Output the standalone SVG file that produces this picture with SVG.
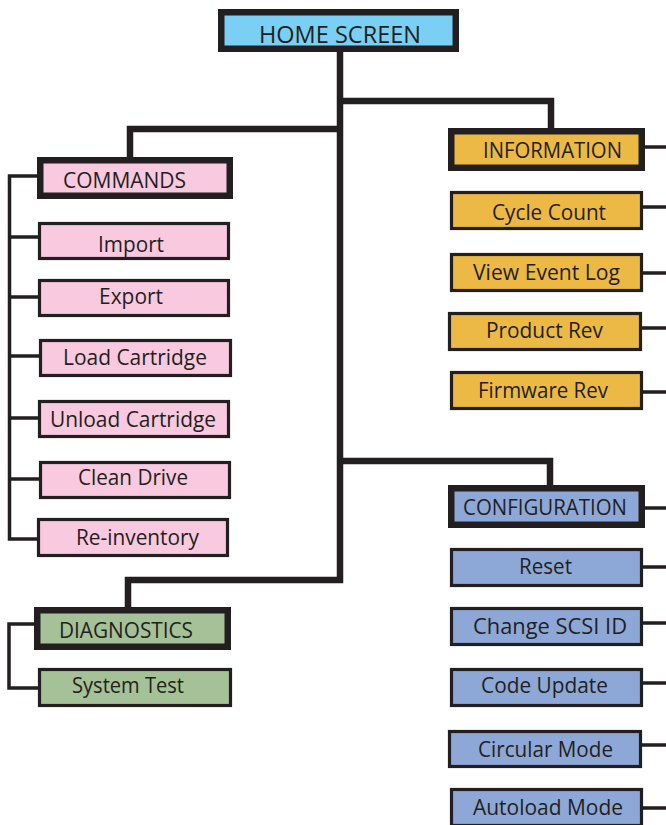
<svg xmlns="http://www.w3.org/2000/svg" width="666" height="825" viewBox="0 0 666 825">
<style>
  .thick { stroke: #231F20; stroke-width: 6.5; }
  .thin { stroke: #231F20; stroke-width: 3.2; }
  .blue { fill: #7ACFF4; }
  .pink { fill: #F8C9DF; }
  .orange { fill: #EDB945; }
  .slate { fill: #8DA7D7; }
  .green { fill: #A5C197; }
  text { font-family: "Open Sans", "Noto Sans", sans-serif; font-size: 22px; fill: #231F20; text-anchor: middle; }
  .big { font-size: 24px; }
  .con { fill: none; stroke: #231F20; stroke-linejoin: miter; stroke-linecap: butt; }
  .ct { stroke-width: 6.5; }
  .cn { stroke-width: 3.5; }
</style>
<rect width="666" height="825" fill="#FFFFFF"/>
<g id="connectors">
  <path class="con ct" d="M340,50 V580 H128 V608"/>
  <path class="con ct" d="M340,101 H551 V130"/>
  <path class="con ct" d="M340,129 H130 V158"/>
  <path class="con ct" d="M340,461 H550 V487"/>
  <path class="con cn" d="M38,176 H9.5 V539 H38"/>
  <path class="con cn" d="M9.5,237 H38 M9.5,297 H38 M9.5,356 H39 M9.5,418 H38 M9.5,479 H39"/>
  <path class="con cn" d="M35,624 H9 V688 H38"/>
  <path class="con cn" d="M645,147 H666 M643,207 H666 M643,273 H666 M642,328 H666 M643,392 H666"/>
  <path class="con cn" d="M645,508 H666 M643,567 H666 M643,623 H666 M643,683 H666 M642,745 H666 M643,808 H666"/>
</g>
<g id="home-screen">
  <rect class="thick blue" x="221.25" y="12.25" width="234.5" height="36.5"/>
  <text class="big" x="340" y="43" textLength="162" lengthAdjust="spacingAndGlyphs">HOME SCREEN</text>
</g>
<g id="commands">
  <rect class="thick pink" x="40.25" y="160.25" width="189.5" height="35.5"/>
  <text x="124.5" y="188" textLength="123" lengthAdjust="spacingAndGlyphs">COMMANDS</text>
</g>
<g id="import">
  <rect class="thin pink" x="39.5" y="223.5" width="189" height="35"/>
  <text x="131" y="251.5" textLength="66" lengthAdjust="spacingAndGlyphs">Import</text>
</g>
<g id="export">
  <rect class="thin pink" x="39.5" y="280.5" width="189" height="35"/>
  <text x="131" y="303.5" textLength="64" lengthAdjust="spacingAndGlyphs">Export</text>
</g>
<g id="load-cartridge">
  <rect class="thin pink" x="40.5" y="340.5" width="190" height="35"/>
  <text x="135" y="365" textLength="144" lengthAdjust="spacingAndGlyphs">Load Cartridge</text>
</g>
<g id="unload-cartridge">
  <rect class="thin pink" x="39.5" y="401.5" width="189" height="35"/>
  <text x="133" y="427" textLength="166" lengthAdjust="spacingAndGlyphs">Unload Cartridge</text>
</g>
<g id="clean-drive">
  <rect class="thin pink" x="40.5" y="462.5" width="189" height="35"/>
  <text x="133" y="485" textLength="110" lengthAdjust="spacingAndGlyphs">Clean Drive</text>
</g>
<g id="re-inventory">
  <rect class="thin pink" x="38.5" y="519.5" width="189" height="36"/>
  <text x="137.5" y="545" textLength="123" lengthAdjust="spacingAndGlyphs">Re-inventory</text>
</g>
<g id="diagnostics">
  <rect class="thick green" x="37.25" y="610.25" width="190.5" height="36.5"/>
  <text x="126" y="637.5" textLength="134" lengthAdjust="spacingAndGlyphs">DIAGNOSTICS</text>
</g>
<g id="system-test">
  <rect class="thin green" x="39.5" y="669.5" width="191" height="36"/>
  <text x="128" y="692.5" textLength="112" lengthAdjust="spacingAndGlyphs">System Test</text>
</g>
<g id="information">
  <rect class="thick orange" x="451.25" y="131.25" width="190.5" height="36.5"/>
  <text x="552.5" y="158" textLength="139" lengthAdjust="spacingAndGlyphs">INFORMATION</text>
</g>
<g id="cycle-count">
  <rect class="thin orange" x="451.5" y="192.5" width="190" height="36"/>
  <text x="549" y="220" textLength="114" lengthAdjust="spacingAndGlyphs">Cycle Count</text>
</g>
<g id="view-event-log">
  <rect class="thin orange" x="451.5" y="254.5" width="190" height="36"/>
  <text x="546.5" y="279.5" textLength="147" lengthAdjust="spacingAndGlyphs">View Event Log</text>
</g>
<g id="product-rev">
  <rect class="thin orange" x="449.5" y="313.5" width="191" height="36"/>
  <text x="544.5" y="338" textLength="117" lengthAdjust="spacingAndGlyphs">Product Rev</text>
</g>
<g id="firmware-rev">
  <rect class="thin orange" x="451.5" y="372.5" width="190" height="36"/>
  <text x="543" y="397.5" textLength="130" lengthAdjust="spacingAndGlyphs">Firmware Rev</text>
</g>
<g id="configuration">
  <rect class="thick slate" x="451.25" y="488.25" width="190.5" height="36.5"/>
  <text x="545" y="515" textLength="164" lengthAdjust="spacingAndGlyphs">CONFIGURATION</text>
</g>
<g id="reset">
  <rect class="thin slate" x="451.5" y="549.5" width="190" height="36"/>
  <text x="545.5" y="573.5" textLength="53" lengthAdjust="spacingAndGlyphs">Reset</text>
</g>
<g id="change-scsi-id">
  <rect class="thin slate" x="451.5" y="608.5" width="190" height="36"/>
  <text x="550" y="633.5" textLength="154" lengthAdjust="spacingAndGlyphs">Change SCSI ID</text>
</g>
<g id="code-update">
  <rect class="thin slate" x="451.5" y="669.5" width="190" height="36"/>
  <text x="544.5" y="692.5" textLength="127" lengthAdjust="spacingAndGlyphs">Code Update</text>
</g>
<g id="circular-mode">
  <rect class="thin slate" x="449.5" y="731.5" width="191" height="35"/>
  <text x="545.5" y="757" textLength="135" lengthAdjust="spacingAndGlyphs">Circular Mode</text>
</g>
<g id="autoload-mode">
  <rect class="thin slate" x="451.5" y="789.5" width="190" height="36"/>
  <text x="548" y="815" textLength="150" lengthAdjust="spacingAndGlyphs">Autoload Mode</text>
</g>
</svg>
